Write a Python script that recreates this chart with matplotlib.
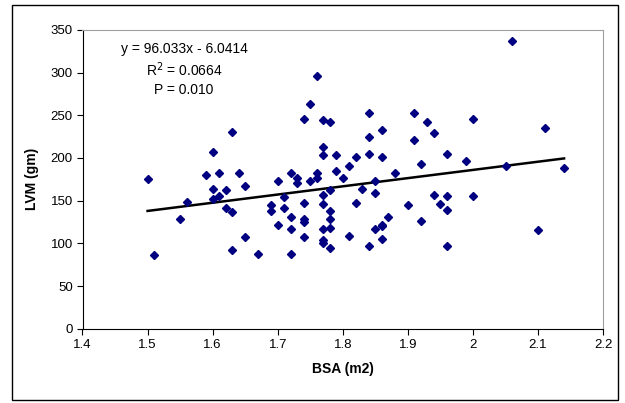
import numpy as np
import matplotlib
matplotlib.use("Agg")
import matplotlib.pyplot as plt
from matplotlib.patches import Rectangle

plt.rcParams['font.family'] = ['Liberation Sans', 'DejaVu Sans']

# BSA (m2) vs LVM (gm)
bsa = [1.50, 1.51, 1.55, 1.56, 1.59, 1.60, 1.60, 1.60, 1.61, 1.61,
       1.62, 1.62, 1.63, 1.63, 1.63, 1.64, 1.65, 1.65, 1.67, 1.69,
       1.69, 1.70, 1.70, 1.71, 1.71, 1.72, 1.72, 1.72, 1.72, 1.73,
       1.73, 1.74, 1.74, 1.74, 1.74, 1.74, 1.75, 1.75, 1.76, 1.76,
       1.76, 1.77, 1.77, 1.77, 1.77, 1.77, 1.77, 1.77, 1.77, 1.78,
       1.78, 1.78, 1.78, 1.78, 1.78, 1.79, 1.79, 1.80, 1.81, 1.81,
       1.82, 1.82, 1.83, 1.84, 1.84, 1.84, 1.84, 1.85, 1.85, 1.85,
       1.86, 1.86, 1.86, 1.86, 1.86, 1.87, 1.88, 1.90, 1.91, 1.91,
       1.92, 1.92, 1.93, 1.94, 1.94, 1.95, 1.96, 1.96, 1.96, 1.96,
       1.99, 2.00, 2.00, 2.05, 2.06, 2.10, 2.11, 2.14]
lvm = [175, 87, 129, 149, 180, 207, 164, 152, 183, 155,
       163, 141, 230, 137, 92, 182, 167, 107, 88, 145,
       138, 173, 121, 154, 141, 182, 131, 117, 88, 176,
       171, 246, 147, 129, 125, 108, 263, 173, 296, 183,
       176, 245, 213, 203, 157, 146, 117, 104, 101, 242,
       162, 138, 128, 118, 95, 204, 185, 177, 191, 109,
       201, 147, 164, 253, 224, 205, 97, 173, 159, 117,
       233, 201, 122, 120, 105, 131, 183, 145, 253, 221,
       193, 126, 242, 229, 157, 146, 205, 155, 139, 97,
       197, 246, 155, 191, 337, 116, 235, 188]

slope = 96.033
intercept = -6.0414
eq_lines = ["y = 96.033x - 6.0414", "R$^2$ = 0.0664", "P = 0.010"]

fig = plt.figure(figsize=(6.25, 4.03), dpi=100)
ax = fig.add_axes([0.132, 0.184, 0.833, 0.742])

ax.plot(bsa, lvm, linestyle='none', marker='D', markersize=4.4,
        color='#000080', zorder=3)

x_fit = np.array([min(bsa), max(bsa)])
ax.plot(x_fit, slope * x_fit + intercept, color='black', lw=1.8, zorder=2)

ax.set_xlim(1.4, 2.2)
ax.set_ylim(0, 350)
ax.set_xticks(np.arange(1.4, 2.21, 0.1))
ax.set_xticklabels(["1.4", "1.5", "1.6", "1.7", "1.8", "1.9", "2", "2.1", "2.2"])
ax.set_yticks(range(0, 351, 50))
ax.tick_params(direction='out', length=4, width=0.8, labelsize=9.5, pad=3)

for s in ['top', 'right']:
    ax.spines[s].set_color('#a0a0a0')
for s in ['left', 'bottom']:
    ax.spines[s].set_color('black')

ax.set_xlabel("BSA (m2)", fontsize=10, fontweight='bold', labelpad=8)
ax.set_ylabel("LVM (gm)", fontsize=10, fontweight='bold', labelpad=8)

for i, t in enumerate(eq_lines):
    ax.text(0.195, 0.935 - i * 0.068, t, transform=ax.transAxes,
            ha='center', va='center', fontsize=10)

fig.patches.append(Rectangle((12 / 625, 3 / 403), 606 / 625, 395 / 403,
                             transform=fig.transFigure, fill=False,
                             edgecolor='black', lw=1))

fig.savefig("out.png", dpi=100)
